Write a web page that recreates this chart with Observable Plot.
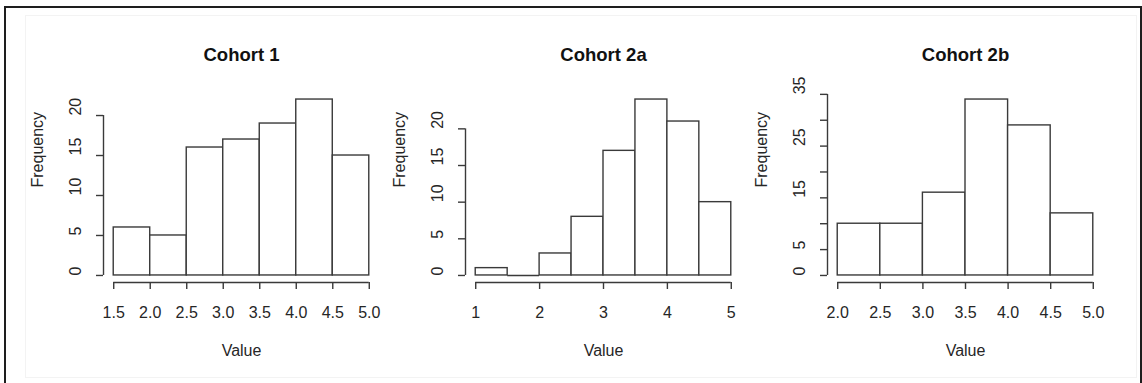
<!DOCTYPE html>
<html>
<head>
<meta charset="utf-8">
<script src="https://cdn.jsdelivr.net/npm/d3@7"></script>
<script src="https://cdn.jsdelivr.net/npm/@observablehq/plot@0.6"></script>
<style>
  html, body { margin: 0; padding: 0; background: #fff; }
  #stage { position: relative; width: 1142px; height: 383px; overflow: hidden; background: #fff; }
  .frame { position: absolute; left: 4px; top: 6px; width: 1134px; height: 380px;
           border: 2px solid #1e1e1e; border-bottom: none; }
  .inner { position: absolute; left: 25px; top: 15px; width: 1110px; height: 361px;
           border: 1px solid #f3f3f3; }
  .panel { position: absolute; top: 0; }
</style>
</head>
<body>
<div id="stage">
  <div class="frame"></div>
  <div class="inner"></div>
</div>
<script>
// ---- data ----
const titles = ["Cohort 1", "Cohort 2a", "Cohort 2b"];

const edges1 = [1.5, 2.0, 2.5, 3.0, 3.5, 4.0, 4.5, 5.0];
const counts1 = [6, 5, 16, 17, 19, 22, 15];
const xTicks1 = [1.5, 2.0, 2.5, 3.0, 3.5, 4.0, 4.5, 5.0];
const xLabels1 = ["1.5", "2.0", "2.5", "3.0", "3.5", "4.0", "4.5", "5.0"];
const yTicks1 = [0, 5, 10, 15, 20];
const yLabels1 = [0, 5, 10, 15, 20];

const edges2a = [1.0, 1.5, 2.0, 2.5, 3.0, 3.5, 4.0, 4.5, 5.0];
const counts2a = [1, 0, 3, 8, 17, 24, 21, 10];
const xTicks2a = [1, 2, 3, 4, 5];
const xLabels2a = ["1", "2", "3", "4", "5"];
const yTicks2a = [0, 5, 10, 15, 20];
const yLabels2a = [0, 5, 10, 15, 20];

const edges2b = [2.0, 2.5, 3.0, 3.5, 4.0, 4.5, 5.0];
const counts2b = [10, 10, 16, 34, 29, 12];
const xTicks2b = [2.0, 2.5, 3.0, 3.5, 4.0, 4.5, 5.0];
const xLabels2b = ["2.0", "2.5", "3.0", "3.5", "4.0", "4.5", "5.0"];
const yTicks2b = [0, 5, 10, 15, 20, 25, 30, 35];
const yLabels2b = [0, 5, 15, 25, 35];

const xTitle = "Value";
const yTitle = "Frequency";

// ---- drawing ----
const LINE = "#3a3a3a";
const TEXT = "#262626";
const FONT = "'Liberation Sans', Arial, Helvetica, sans-serif";
const FS = 16;

function panel(edges, counts, xTicks, xLabels, yTicks, yLabels, title, left) {
  const xmin = edges[0], xmax = edges[edges.length - 1], xr = xmax - xmin;
  const ymax = d3.max(counts);
  const xDomain = [xmin - 0.04 * xr, xmax + 0.04 * xr];
  const yDomain = [-0.04 * ymax, 1.04 * ymax];
  const bins = counts.map((c, i) => ({x1: edges[i], x2: edges[i + 1], n: c}));
  const emptyBins = bins.filter(b => b.n === 0);
  const svg = Plot.plot({
    width: 376, height: 383,
    marginLeft: 90, marginRight: 10, marginTop: 92, marginBottom: 101,
    x: {domain: xDomain, axis: null},
    y: {domain: yDomain, axis: null},
    style: {background: "transparent", fontFamily: FONT, overflow: "visible", color: TEXT},
    marks: [
      Plot.rect(bins, {x1: "x1", x2: "x2", y1: d => 0, y2: "n", fill: "white", stroke: LINE, strokeWidth: 1.4}),
      Plot.ruleY(emptyBins, {y: "n", x1: "x1", x2: "x2", stroke: LINE, strokeWidth: 1.4}),
      // y axis
      Plot.ruleX([xDomain[0]], {y1: yTicks[0], y2: yTicks[yTicks.length - 1], stroke: LINE, strokeWidth: 1.4}),
      Plot.ruleY(yTicks, {y: d => d, x1: xDomain[0], x2: xDomain[0], insetLeft: -7, stroke: LINE, strokeWidth: 1.4}),
      Plot.text(yLabels, {y: d => d, text: d => String(d), frameAnchor: "left", dx: -28, rotate: -90,
                          lineAnchor: "middle", fontSize: FS, fill: TEXT}),
      // x axis
      Plot.ruleY([yDomain[0]], {x1: xTicks[0], x2: xTicks[xTicks.length - 1], stroke: LINE, strokeWidth: 1.4}),
      Plot.ruleX(xTicks, {x: d => d, y1: yDomain[0], y2: yDomain[0], insetBottom: -7, stroke: LINE, strokeWidth: 1.4}),
      Plot.text(xTicks, {x: d => d, text: (d, i) => xLabels[i], frameAnchor: "bottom", dy: 30,
                         lineAnchor: "middle", fontSize: FS, fill: TEXT}),
      // titles
      Plot.text([title], {frameAnchor: "top", dy: -37, lineAnchor: "middle", text: d => d,
                          fontSize: 18.5, fontWeight: "bold", fill: "#111"}),
      Plot.text([xTitle], {frameAnchor: "bottom", dy: 68, lineAnchor: "middle", text: d => d, fontSize: FS, fill: TEXT}),
      Plot.text([yTitle], {frameAnchor: "left", dx: -66, rotate: -90, lineAnchor: "middle", text: d => d,
                           fontSize: FS, fill: TEXT})
    ]
  });
  const div = document.createElement("div");
  div.className = "panel";
  div.style.left = left + "px";
  div.appendChild(svg);
  document.getElementById("stage").appendChild(div);
}

panel(edges1, counts1, xTicks1, xLabels1, yTicks1, yLabels1, titles[0], 13);
panel(edges2a, counts2a, xTicks2a, xLabels2a, yTicks2a, yLabels2a, titles[1], 375);
panel(edges2b, counts2b, xTicks2b, xLabels2b, yTicks2b, yLabels2b, titles[2], 737);
</script>
</body>
</html>
